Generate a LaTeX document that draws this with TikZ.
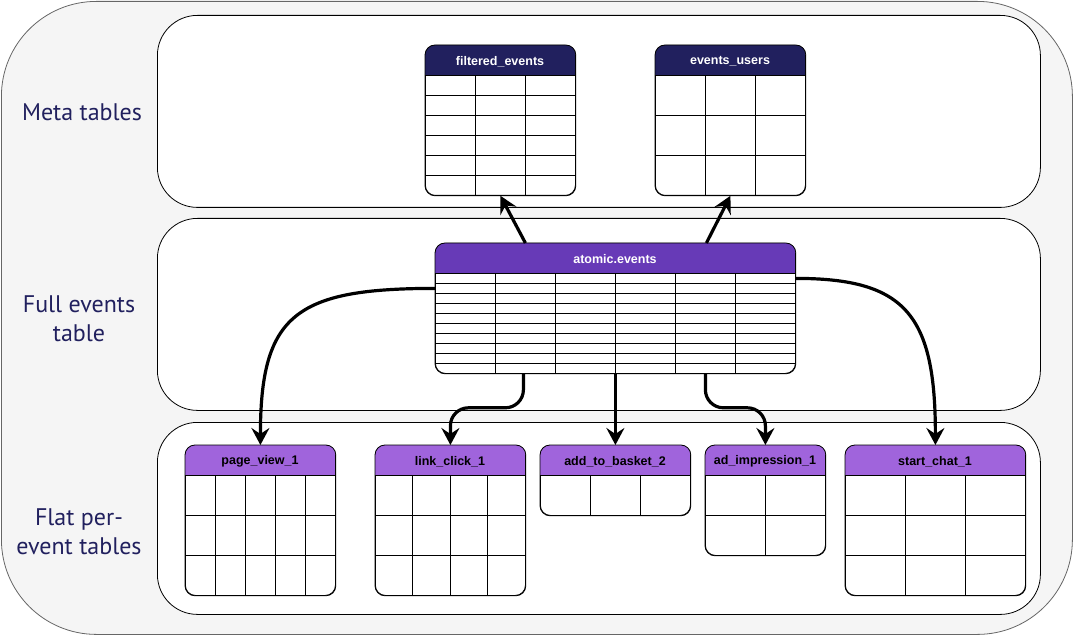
\documentclass[tikz,border=0pt]{standalone}
\usepackage{fontspec}
\usepackage{tikz}
\usetikzlibrary{arrows.meta}
\newfontfamily\sidefont{PT Sans}
\newfontfamily\headfont{Liberation Sans}
\definecolor{navy}{HTML}{21205E}
\definecolor{atompurple}{HTML}{673AB7}
\definecolor{flatpurple}{HTML}{A064DC}
\definecolor{framegray}{HTML}{F5F5F5}

\begin{document}
\begin{tikzpicture}[x=1pt, y=-1pt,
	band/.style={draw=black, fill=white, rounded corners=40pt, line width=0.8pt, minimum width=883pt, minimum height=192pt, anchor=north west, inner sep=0pt},
	side/.style={text=navy, font=\sidefont\fontsize{24}{29}\selectfont, align=center},
	tbl/.style={draw=black, fill=white, line width=0.8pt, rounded corners=10pt, anchor=north west, inner sep=0pt},
	hdr/.style={font=\headfont\bfseries\fontsize{12.5}{14}\selectfont, inner sep=0pt},
	flow/.style={line width=3.2pt, -{Stealth[length=17pt, width=18pt, inset=6pt]}}]

	\useasboundingbox (0,0) rectangle (1073,636);

	% Frame and bands
	\node[draw=black!60, fill=framegray, line width=0.8pt, rounded corners=95pt, minimum width=1071pt, minimum height=633pt, anchor=north west, inner sep=0pt] (frame) at (1,1) {};
	\node[band] (meta) at (157,15) {};
	\node[band] (full) at (157,218) {};
	\node[band] (flat) at (157,422) {};

	\node[side] (metalbl) at (82,112) {Meta tables};
	\node[side] (fulllbl) at (79,319) {Full events\\table};
	\node[side] (flatlbl) at (79,532) {Flat per-\\event tables};

	% Tables
	\foreach \name/\tx/\ty/\nc/\cw/\nr/\rh/\hcol/\tcol/\lbl in {
		filtered/425/45/3/50/6/20/navy/white/filtered\_events,
		users/655/45/3/50/3/40/navy/white/events\_users,
		atomic/435/243/6/60/10/10/atompurple/white/atomic.events,
		pageview/185/445/5/30/3/40/flatpurple/black/page\_view\_1,
		linkclick/375/445/4/37.5/3/40/flatpurple/black/link\_click\_1,
		basket/540/445/3/50/1/40/flatpurple/black/add\_to\_basket\_2,
		adimp/705/445/2/60/2/40/flatpurple/black/ad\_impression\_1,
		startchat/845/445/3/60/3/40/flatpurple/black/start\_chat\_1} {
		\pgfmathsetmacro\w{\nc*\cw}
		\pgfmathsetmacro\h{30+\nr*\rh}
		\pgfmathtruncatemacro\lastrow{\nr-1}
		\pgfmathtruncatemacro\lastcol{\nc-1}
		\node[tbl, minimum width=\w pt, minimum height=\h pt] (\name) at (\tx,\ty) {};
		\begin{scope}
			\clip[rounded corners=10pt] (\name.north west) rectangle (\name.south east);
			\fill[\hcol] (\tx,\ty) rectangle ++(\w,30);
			\foreach \k in {0,...,\lastrow} \draw[line width=0.8pt] (\tx,\ty+30+\k*\rh) -- ++(\w,0);
			\foreach \k in {1,...,\lastcol} \draw[line width=0.8pt] (\tx+\k*\cw,\ty+30) -- ++(0,\nr*\rh);
		\end{scope}
		\draw[line width=0.8pt, rounded corners=10pt] (\name.north west) rectangle (\name.south east);
		\node[hdr, text=\tcol] (\name-hdr) at (\tx+\w/2,\ty+16.5) {\lbl};
	}

	% Edges
	\draw[flow] ([xshift=-90pt]atomic.north) -- (filtered.south);
	\draw[flow] ([xshift=91pt]atomic.north) -- (users.south);
	\draw[flow] ([yshift=20pt]atomic.west) .. controls +(-140,0) and +(0,-130) .. (pageview.north);
	\draw[flow, rounded corners=18pt] ([xshift=-92pt]atomic.south) -- ++(0,34) -| (linkclick.north);
	\draw[flow] (atomic.south) -- (basket.north);
	\draw[flow, rounded corners=18pt] ([xshift=90pt]atomic.south) -- ++(0,34) -| (adimp.north);
	\draw[flow] ([yshift=30pt]atomic.east) .. controls +(110,0) and +(0,-130) .. (startchat.north);
\end{tikzpicture}
\end{document}
